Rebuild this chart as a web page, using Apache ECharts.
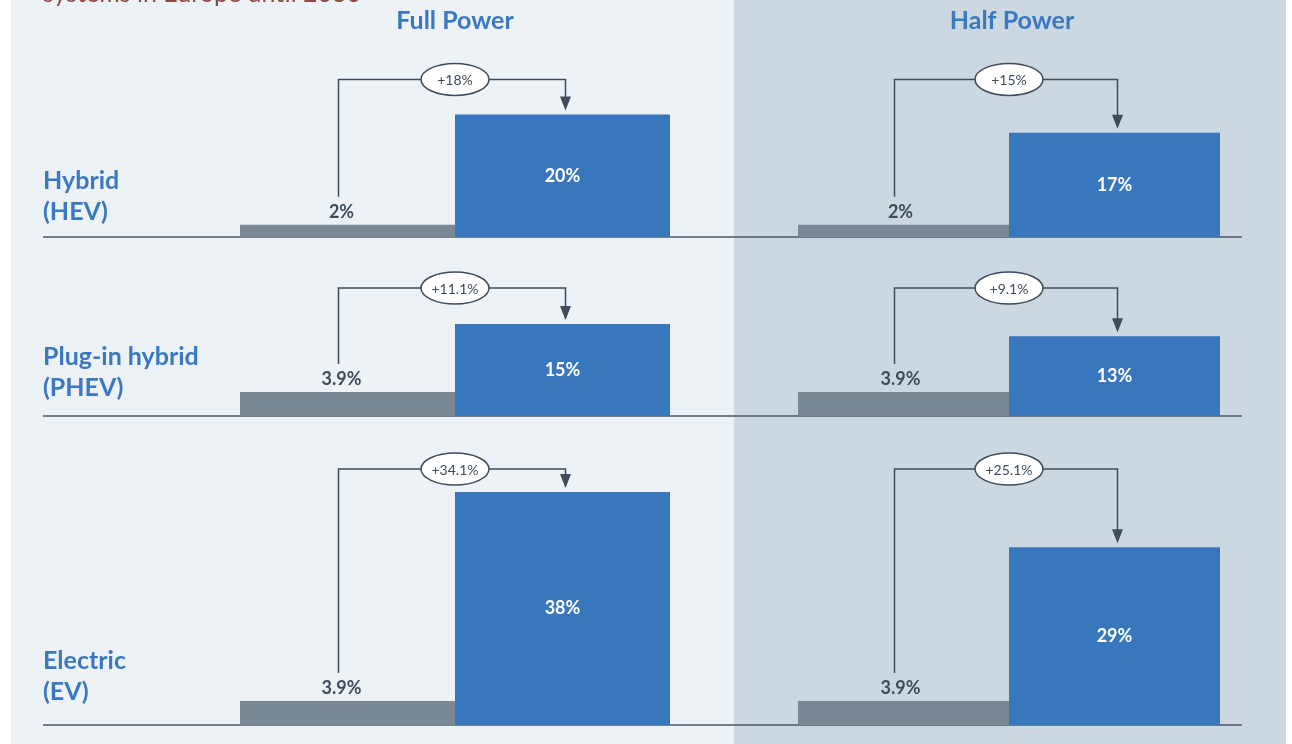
<!DOCTYPE html>
<html>
<head>
<meta charset="utf-8">
<script src="https://cdn.jsdelivr.net/npm/echarts@6/dist/echarts.min.js"></script>
<style>
  html, body { margin: 0; padding: 0; background: #fff; }
  #chart { width: 1292px; height: 744px; }
</style>
</head>
<body>
<div id="chart"></div>
<script>
'use strict';
// data
var panelNames = ['Full Power', 'Half Power'];
var rowNames = ['Hybrid\n(HEV)', 'Plug-in hybrid\n(PHEV)', 'Electric\n(EV)'];
var fullToday = [2, 3.9, 3.9];
var fullTarget = [20, 15, 38];
var fullDiff = ['+18%', '+11.1%', '+34.1%'];
var halfToday = [2, 3.9, 3.9];
var halfTarget = [17, 13, 29];
var halfDiff = ['+15%', '+9.1%', '+25.1%'];

// layout
var baselines = [237, 416, 725];
var rowLabelY = [196, 372, 676];
var bracketGap = [35, 36, 23];
var panelX = [[240, 670], [798, 1220]];
var pxPerUnit = 6.13;
var yMax = 38;

var blue = '#3876be';
var grey = '#7a8895';
var ink = '#3e4c5b';
var font = 'Lato, "Open Sans", sans-serif';

var chart = echarts.init(document.getElementById('chart'));

function makeBracket(row, diff) {
  return function (params, api) {
    var p0 = api.coord([0, api.value(1)]);
    var p1 = api.coord([1, api.value(2)]);
    var top = api.coord([1, api.value(3)])[1] - bracketGap[row];
    var lx = p0[0] - 9, rx = p1[0] + 3;
    var tip = p1[1] - 4;
    var cx = (p0[0] + p1[0]) / 2;
    return {
      type: 'group',
      children: [{
        type: 'polyline',
        shape: { points: [[lx, p0[1] - 28], [lx, top], [rx, top], [rx, tip - 12]] },
        style: { stroke: ink, lineWidth: 1.5, fill: null }
      }, {
        type: 'polygon',
        shape: { points: [[rx - 5.5, tip - 14], [rx + 5.5, tip - 14], [rx, tip]] },
        style: { fill: ink }
      }, {
        type: 'ellipse',
        shape: { cx: cx, cy: top, rx: 34, ry: 16 },
        style: { fill: '#fff', stroke: ink, lineWidth: 1.5 }
      }, {
        type: 'text',
        style: {
          text: diff, x: cx, y: top + 1, align: 'center', verticalAlign: 'middle',
          fill: ink, font: '14px ' + font
        }
      }]
    };
  };
}

var grids = [], xAxes = [], yAxes = [], series = [];
for (var r = 0; r < 3; r++) {
  var rowMax = Math.max(fullTarget[r], halfTarget[r]);
  for (var p = 0; p < 2; p++) {
    var idx = grids.length;
    var today = p == 0 ? fullToday[r] : halfToday[r];
    var target = p == 0 ? fullTarget[r] : halfTarget[r];
    var diff = p == 0 ? fullDiff[r] : halfDiff[r];
    grids.push({
      left: panelX[p][0],
      width: panelX[p][1] - panelX[p][0],
      bottom: 744 - baselines[r],
      height: yMax * pxPerUnit
    });
    xAxes.push({ type: 'category', gridIndex: idx, data: ['today', 'target'], show: false });
    yAxes.push({ type: 'value', gridIndex: idx, min: 0, max: yMax, show: false });
    series.push({
      type: 'bar',
      xAxisIndex: idx,
      yAxisIndex: idx,
      barWidth: '100%',
      silent: true,
      z: 3,
      data: [{
        value: today,
        itemStyle: { color: grey },
        label: {
          show: true, position: 'top', distance: 4, color: ink,
          offset: [p == 0 ? -6 : -3, 0],
          fontFamily: font, fontSize: 18, fontWeight: 'bold',
          formatter: '{c}%'
        }
      }, {
        value: target,
        itemStyle: { color: blue },
        label: {
          show: true, position: 'inside', color: '#fff',
          fontFamily: font, fontSize: 18, fontWeight: 'bold',
          formatter: '{c}%'
        }
      }]
    });
    series.push({
      type: 'custom',
      xAxisIndex: idx,
      yAxisIndex: idx,
      silent: true,
      clip: false,
      z: 5,
      data: [[0, today, target, rowMax]],
      renderItem: makeBracket(r, diff)
    });
  }
}

var graphics = [
  { type: 'rect', shape: { x: 11, y: 0, width: 723, height: 744 }, style: { fill: '#edf2f7' }, z: -10 },
  { type: 'rect', shape: { x: 734, y: 0, width: 552, height: 744 }, style: { fill: '#cbd8e2' }, z: -10 },
  {
    type: 'text', z: 10,
    style: {
      text: 'systems in Europe until 2030', x: 43, y: 6, verticalAlign: 'bottom',
      fill: '#8e4b43', font: '25px ' + font
    }
  }
];
var panelCenters = [455, 1012];
for (var i = 0; i < panelNames.length; i++) {
  graphics.push({
    type: 'text', z: 10,
    style: {
      text: panelNames[i], x: panelCenters[i], y: 21, align: 'center', verticalAlign: 'middle',
      fill: '#3a78c2', font: 'bold 25px ' + font
    }
  });
}
for (var j = 0; j < rowNames.length; j++) {
  graphics.push({
    type: 'text', z: 10,
    style: {
      text: rowNames[j], x: 43, y: rowLabelY[j], verticalAlign: 'middle',
      fill: '#3a78c2', font: 'bold 25px ' + font, lineHeight: 31
    }
  });
  graphics.push({
    type: 'line', z: 1,
    shape: { x1: 43, y1: baselines[j], x2: 1242, y2: baselines[j] },
    style: { stroke: '#4a5968', lineWidth: 1.5 }
  });
}

chart.setOption({
  animation: false,
  grid: grids,
  xAxis: xAxes,
  yAxis: yAxes,
  series: series,
  graphic: graphics
});
</script>
</body>
</html>
